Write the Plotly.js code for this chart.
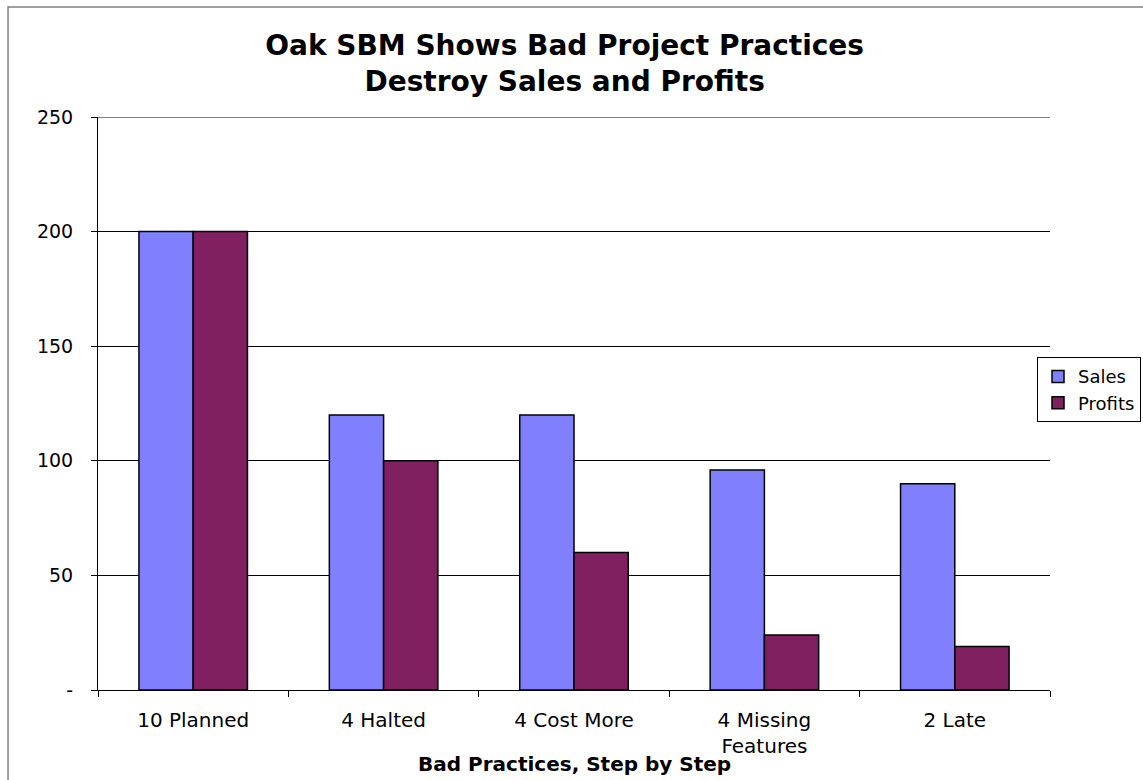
<!DOCTYPE html>
<html>
<head>
<meta charset="utf-8">
<script src="https://cdn.plot.ly/plotly-3.0.1.min.js"></script>
<style>html,body{margin:0;padding:0;background:#fff;}#chart{width:1143px;height:780px;}</style>
</head>
<body>
<div id="chart"></div>
<script>
const categories = ["10 Planned", "4 Halted", "4 Cost More", "4 Missing<br>Features", "2 Late"];
const sales = [200, 120, 120, 96, 90];
const profits = [200, 100, 60, 24, 19];
const yTickVals = [0, 50, 100, 150, 200, 250];
const yTickText = ["-", "50", "100", "150", "200", "250"];
const xAxisTitle = "Bad Practices, Step by Step";

const FONT = "Verdana, 'DejaVu Sans', sans-serif";

const data = [
  {type: "bar", name: "Sales", x: categories, y: sales,
   marker: {color: "#8080FF", line: {color: "#000000", width: 1.5}}},
  {type: "bar", name: "Profits", x: categories, y: profits,
   marker: {color: "#802060", line: {color: "#000000", width: 1.5}}}
];

const layout = {
  width: 1143, height: 780,
  paper_bgcolor: "#ffffff", plot_bgcolor: "#ffffff",
  margin: {l: 98, r: 93, t: 117, b: 90, pad: 0, autoexpand: false},
  font: {family: FONT, size: 19, color: "#000"},
  barmode: "group", bargap: 0.43, bargroupgap: 0,
  title: {text: "<b>Oak SBM Shows Bad Project Practices<br>Destroy Sales and Profits</b>",
          font: {family: FONT, size: 28, color: "#000"},
          x: 0.494, xanchor: "center", y: 0.93, yanchor: "middle"},
  xaxis: {
    type: "category", tickson: "boundaries", ticks: "outside", ticklen: 6, tickcolor: "#000",
    showline: true, linecolor: "#000", linewidth: 1, showgrid: false, zeroline: false,
    tickfont: {family: FONT, size: 20}, ticklabelstandoff: 12
  },
  yaxis: {
    range: [0, 250], tickvals: yTickVals, ticktext: yTickText,
    ticks: "outside", ticklen: 6, tickcolor: "#000",
    showline: true, linecolor: "#000", linewidth: 1,
    showgrid: true, gridcolor: "#000", gridwidth: 1, zeroline: false,
    tickfont: {family: FONT, size: 19}, ticklabelstandoff: 14
  },
  legend: {x: 1.0956, xanchor: "right", y: 0.524, yanchor: "middle",
           bordercolor: "#000", borderwidth: 1, bgcolor: "#fff",
           font: {family: FONT, size: 18}, itemwidth: 30, tracegroupgap: 0},
  annotations: [
    {text: "<b>" + xAxisTitle + "</b>", xref: "paper", yref: "paper", x: 0.5, y: -0.129,
     xanchor: "center", yanchor: "middle", showarrow: false, font: {family: FONT, size: 20}}
  ],
  shapes: [
    {type: "rect", xref: "paper", yref: "paper", x0: -0.0945, x1: 1.2, y0: -0.3, y1: 1.192,
     line: {color: "#808080", width: 1.5}, fillcolor: "rgba(0,0,0,0)", layer: "below"},
    {type: "line", xref: "paper", yref: "y", x0: 0, x1: 1, y0: 250, y1: 250,
     line: {color: "#000", width: 1}, layer: "below"}
  ]
};

Plotly.newPlot("chart", data, layout, {displayModeBar: false, staticPlot: true});
</script>
</body>
</html>
